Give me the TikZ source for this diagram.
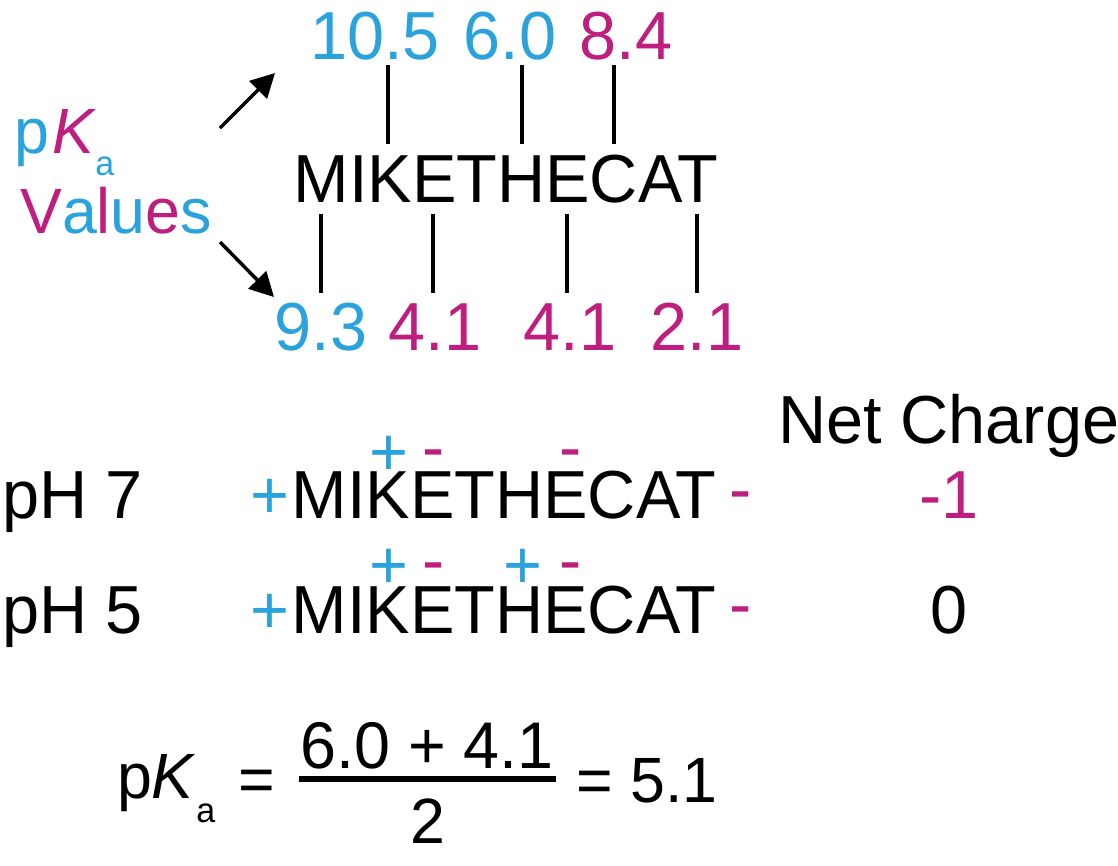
\documentclass[tikz,border=0pt]{standalone}
\usepackage{fontspec}
\setmainfont{Liberation Sans}[FakeStretch=0.98]
\usetikzlibrary{arrows.meta}
\definecolor{cblue}{RGB}{42,163,220}
\definecolor{cmag}{RGB}{190,30,126}
\tikzset{
  big/.style={font=\fontsize{51}{60}\selectfont, inner sep=0pt, anchor=base},
  mid/.style={font=\fontsize{48}{56}\selectfont, inner sep=0pt, anchor=base},
  sub/.style={font=\fontsize{26}{30}\selectfont, inner sep=0pt, anchor=base west},
  tick/.style={line width=2.5pt},
  arr/.style={line width=2.6pt, -{Triangle[length=18pt,width=18.5pt]}},
  fbar/.style={line width=4.2pt},
}
\begin{document}
\begin{tikzpicture}[x=0.75pt,y=-0.75pt]
\useasboundingbox (0,0) rectangle (1118,865);
% pKa label
\node[mid,anchor=base west,text=cblue] (lp) at (14,153) {p};
\node[mid,anchor=base west,text=cmag,font=\fontsize{48}{56}\selectfont\itshape] (lK) at (52,153) {K};
\node[sub,text=cblue] (la) at (95,175) {a};
\node[mid,anchor=base west] (lval) at (20,233) {\color{cmag}V\color{cblue}a\color{cmag}l\color{cblue}u\color{cmag}e\color{cblue}s};
\coordinate (at1) at (220,128);
\coordinate (ah1) at (275,73);
\coordinate (at2) at (220,242);
\coordinate (ah2) at (274,297);
\draw[arr] (at1) -- (ah1);
\draw[arr] (at2) -- (ah2);
% top numbers
\node[big,text=cblue] (t1) at (375,59) {10.5};
\node[big,text=cblue] (t2) at (510,59) {6.0};
\node[big,text=cmag] (t3) at (626,59) {8.4};
\node[big] (seq) at (506,202) {MIKETHECAT};
\foreach \x/\n in {388/a,522/b,614/c}{
  \coordinate (u\n1) at (\x,65);
  \coordinate (u\n2) at (\x,144);
  \draw[tick] (u\n1) -- (u\n2);
}
\foreach \x/\n in {321/a,433/b,567/c,697/d}{
  \coordinate (d\n1) at (\x,214);
  \coordinate (d\n2) at (\x,293);
  \draw[tick] (d\n1) -- (d\n2);
}
\node[big,text=cblue] (b1) at (321,350) {9.3};
\node[big,text=cmag] (b2) at (435,350) {4.1};
\node[big,text=cmag] (b3) at (570,350) {4.1};
\node[big,text=cmag] (b4) at (697,350) {2.1};
% net charge
\node[big] (nc) at (949,443) {Net Charge};
% pH 7 row
\node[big,anchor=base west] (ph7) at (2,518) {pH 7};
\node[big,text=cblue] (p7l) at (270,518) {+};
\node[big] (s7) at (504,518) {MIKETHECAT};
\node[big,text=cmag] (p7r) at (741,512) {-};
\node[big,text=cblue] (p7a) at (389,475) {+};
\node[big,text=cmag] (p7b) at (434,470) {-};
\node[big,text=cmag] (p7c) at (571,470) {-};
\node[big,text=cmag] (n7) at (949,518) {-1};
% pH 5 row
\node[big,anchor=base west] (ph5) at (2,633) {pH 5};
\node[big,text=cblue] (p5l) at (270,633) {+};
\node[big] (s5) at (504,633) {MIKETHECAT};
\node[big,text=cmag] (p5r) at (741,627) {-};
\node[big,text=cblue] (p5a) at (389,588) {+};
\node[big,text=cmag] (p5b) at (434,583) {-};
\node[big,text=cblue] (p5c) at (523,588) {+};
\node[big,text=cmag] (p5d) at (571,583) {-};
\node[big] (n5) at (949,633) {0};
% formula
\node[mid,anchor=base west] (fp) at (117,798) {p};
\node[mid,anchor=base west,font=\fontsize{48}{56}\selectfont\itshape] (fK) at (151,798) {K};
\node[sub] (fa) at (196,822) {a};
\node[mid] (feq) at (257,801) {=};
\node[mid,font=\fontsize{49.5}{56}\selectfont] (fnum) at (427,768) {6.0 + 4.1};
\coordinate (fb1) at (299,779);
\coordinate (fb2) at (556,779);
\draw[fbar] (fb1) -- (fb2);
\node[mid] (fden) at (428,843) {2};
\node[mid,anchor=base west] (fres) at (576,802) {= 5.1};
\end{tikzpicture}
\end{document}
